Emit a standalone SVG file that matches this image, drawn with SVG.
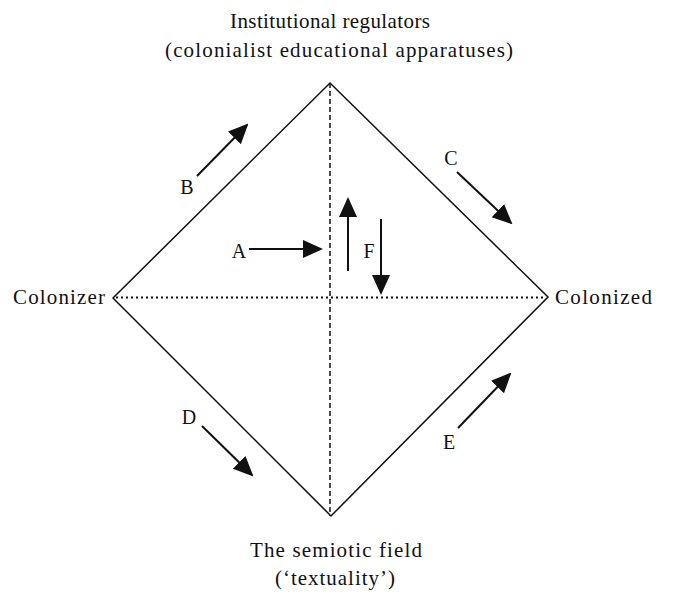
<svg xmlns="http://www.w3.org/2000/svg" width="677" height="600" viewBox="0 0 677 600">
<style>
.t{font-family:"Liberation Serif","Times New Roman",serif;font-size:21px;fill:#111}
.l{font-family:"Liberation Serif","Times New Roman",serif;font-size:20px;fill:#111}
.edge{stroke:#111;stroke-width:1.5;fill:none}
.arr{stroke:#111;stroke-width:2;fill:none;marker-end:url(#ah)}
</style>
<defs>
<marker id="ah" viewBox="0 0 20 20" refX="18" refY="10" markerWidth="20" markerHeight="20" markerUnits="userSpaceOnUse" orient="auto">
<path d="M0,1 L20,10 L0,19 Z" fill="#111"/>
</marker>
</defs>
<rect width="677" height="600" fill="#fff"/>
<g id="top"><text class="t" x="230" y="28" textLength="200" lengthAdjust="spacing">Institutional regulators</text><text class="t" x="165" y="57" textLength="348" lengthAdjust="spacing">(colonialist educational apparatuses)</text></g>
<g id="left"><text class="t" x="13" y="304" textLength="92" lengthAdjust="spacing">Colonizer</text></g>
<g id="right"><text class="t" x="555" y="304" textLength="97" lengthAdjust="spacing">Colonized</text></g>
<g id="bottom"><text class="t" x="250" y="557" textLength="172" lengthAdjust="spacing">The semiotic field</text><text class="t" x="275" y="585" textLength="120" lengthAdjust="spacing">(‘textuality’)</text></g>
<g id="connectors">
<polygon class="edge" points="330,83 548,297 331,516 113,298"/>
<line x1="330" y1="83" x2="330" y2="516" stroke="#111" stroke-width="1.5" stroke-dasharray="5,3"/>
<line x1="116" y1="297.5" x2="545" y2="297.5" stroke="#111" stroke-width="2" stroke-dasharray="2,3"/>
<line class="arr" x1="249" y1="249" x2="321" y2="249"/>
<line class="arr" x1="348" y1="271" x2="348" y2="199"/>
<line class="arr" x1="381" y1="219" x2="381" y2="293"/>
<line class="arr" x1="197" y1="176" x2="247" y2="125"/>
<line class="arr" x1="457" y1="172" x2="511" y2="223"/>
<line class="arr" x1="202" y1="426" x2="252" y2="475"/>
<line class="arr" x1="458" y1="428" x2="510" y2="374"/>
</g>
<g id="labels">
<text class="l" x="187" y="194" text-anchor="middle">B</text>
<text class="l" x="451" y="165" text-anchor="middle">C</text>
<text class="l" x="239" y="258" text-anchor="middle">A</text>
<text class="l" x="369" y="258" text-anchor="middle">F</text>
<text class="l" x="189" y="424" text-anchor="middle">D</text>
<text class="l" x="449" y="449" text-anchor="middle">E</text>
</g>
</svg>
